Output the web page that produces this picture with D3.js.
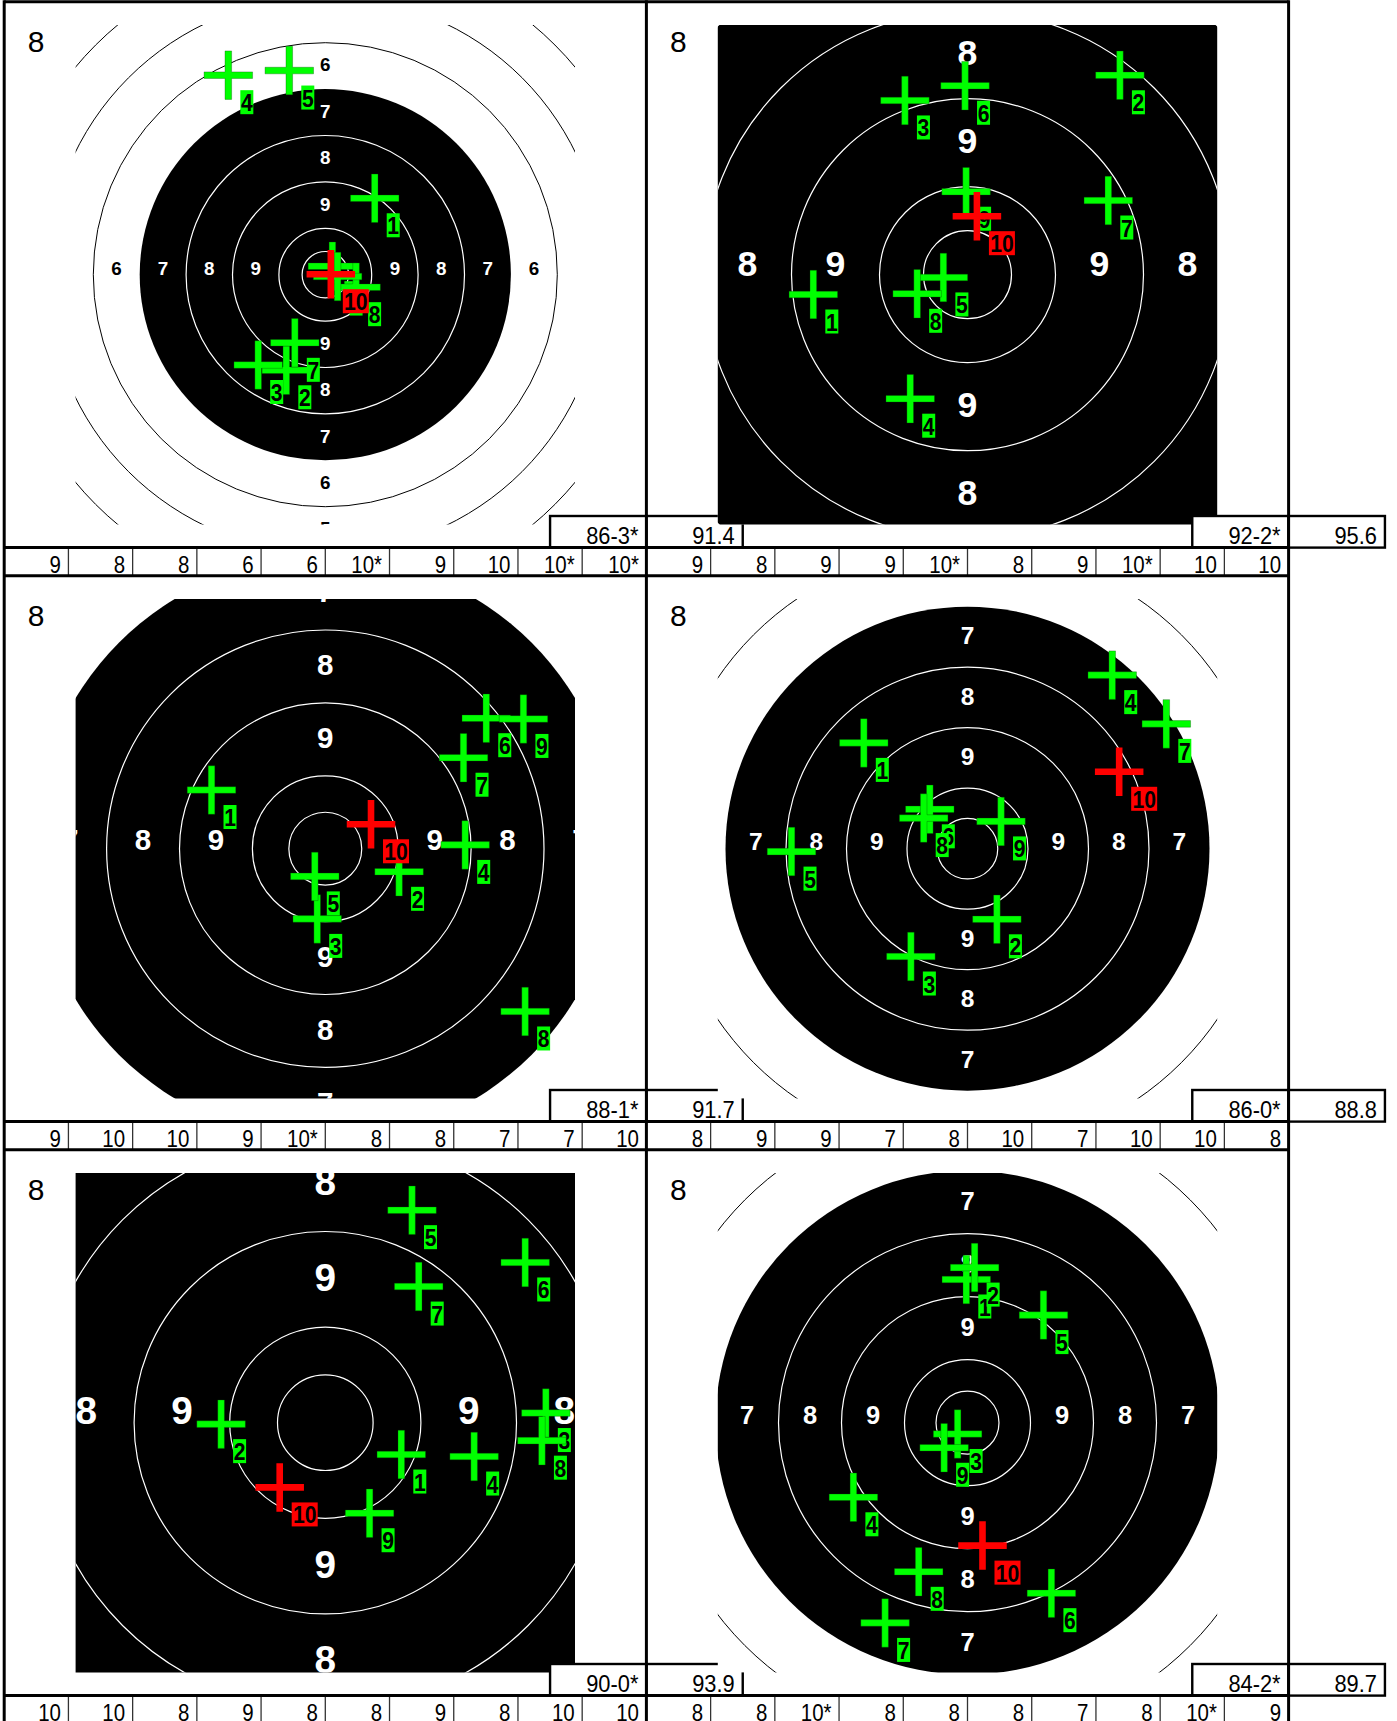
<!DOCTYPE html>
<html><head><meta charset="utf-8">
<script src="https://cdn.jsdelivr.net/npm/d3@7"></script>
<style>body{margin:0;background:#fff}svg{display:block}</style>
</head><body><svg id="c" width="1397" height="1721"></svg>
<script>
// ---------------- data ----------------
const cornerLabels = ["8","8","8","8","8","8"];
const seriesTotals = ["86-3*","92-2*","88-1*","86-0*","90-0*","84-2*"];
const decimalTotals = ["91.4","95.6","91.7","88.8","93.9","89.7"];
const shotNumbers = ["1","2","3","4","5","6","7","8","9","10"];

const scoresA = ["9","8","8","6","6","10*","9","10","10*","10*"];
const scoresB = ["9","8","9","9","10*","8","9","10*","10","10"];
const scoresC = ["9","10","10","9","10*","8","8","7","7","10"];
const scoresD = ["8","9","9","7","8","10","7","10","10","8"];
const scoresE = ["10","10","8","9","8","8","9","8","10","10"];
const scoresF = ["8","8","10*","8","8","8","7","8","10*","9"];

// shot positions in ring widths from the centre (x right, y up)
const xA = [1.065,-0.84,-1.446,-2.09,-0.776,0.153,-0.657,0.664,0.265,0.119];
const yA = [1.647,-2.06,-1.946,4.30,4.40,0.183,-1.468,-0.269,-0.04,0.01];
const xB = [-1.752,1.732,-0.711,-0.651,-0.274,-0.028,1.6,-0.572,-0.016,0.107];
const yB = [-0.225,2.266,1.98,-1.409,-0.031,2.147,0.843,-0.217,0.943,0.665];
const xC = [-1.561,1.012,-0.111,1.919,-0.144,2.208,1.896,2.741,2.718,0.627];
const yC = [0.805,-0.317,-0.963,0.052,-0.38,1.79,1.248,-2.233,1.78,0.335];
const xD = [-1.714,0.486,-0.936,2.392,-2.909,-0.623,3.286,-0.724,0.554,2.507];
const yD = [1.749,-1.167,-1.782,2.869,-0.048,0.651,2.063,0.506,0.451,1.271];
const xE = [0.795,-1.09,2.307,1.557,0.907,2.091,0.977,2.266,0.463,-0.477];
const yE = [-0.333,-0.015,0.101,-0.354,2.223,1.676,1.424,-0.188,-0.947,-0.677];
const xF = [-0.019,0.113,-0.157,-1.811,1.206,1.332,-1.308,-0.775,-0.371,0.238];
const yF = [2.273,2.462,-0.179,-1.184,1.708,-2.706,-3.178,-2.367,-0.398,-1.951];

const ringRadii = [0.5,1,2,3,5,6,7,8,9];          // ring lines (ring widths)
const ringLabelValues = [9,8,7,6,5,4,3,2];       // printed ring numbers
const blackRadius = 4;                            // black aiming mark

// ---------------- view settings ----------------
const panelScale = [46.4,88,72.9,60.5,95.6,63];   // px per ring width

const panels = [
  {scores:scoresA,x:xA,y:yA},{scores:scoresB,x:xB,y:yB},
  {scores:scoresC,x:xC,y:yC},{scores:scoresD,x:xD,y:yD},
  {scores:scoresE,x:xE,y:yE},{scores:scoresF,x:xF,y:yF}
];

const FONT = '"Liberation Sans", Arial, Helvetica, sans-serif';
const svg = d3.select("#c").style("font-family", FONT);
const defs = svg.append("defs");
const colLeft = [4.2, 646.4], colW = 642.2, cellW = colW/10;
const blockH = 574, top0 = 2, half = 249.7;
const GREEN = "#00ff00", RED = "#ff0000";

function crossPath(cx, cy){
  const L = 24.25, t = 3.3, a = L - t;
  return `M${cx-t},${cy-L}h${2*t}v${a}h${a}v${2*t}h${-a}v${a}h${-2*t}v${-a}h${-a}v${-2*t}h${a}Z`;
}

panels.forEach((p, i) => {
  const row = Math.floor(i/2), col = i % 2;
  const T = top0 + row*blockH;
  const cx = colLeft[col] + colW/2, cy = T + 272.7;
  const u = panelScale[i];
  const sx = d3.scaleLinear().domain([-1,1]).range([cx-u, cx+u]);
  const sy = d3.scaleLinear().domain([-1,1]).range([cy+u, cy-u]);
  const rad = r => sx(r) - sx(0);

  defs.append("clipPath").attr("id","clip"+i).append("rect")
    .attr("x",cx-half).attr("y",cy-half).attr("width",2*half).attr("height",2*half);

  const g = svg.append("g");
  // target background
  g.append("rect").attr("x",cx-half).attr("y",cy-half)
    .attr("width",2*half).attr("height",2*half).attr("fill","#fff");
  const tg = g.append("g").attr("clip-path",`url(#clip${i})`);
  tg.append("circle").attr("cx",cx).attr("cy",cy).attr("r",rad(blackRadius)).attr("fill","#000");
  tg.selectAll("circle.ring").data(ringRadii).join("circle").attr("class","ring")
    .attr("cx",cx).attr("cy",cy).attr("r",d=>rad(d)).attr("fill","none")
    .attr("stroke",d=> d<blackRadius ? "#fff" : "#000")
    .attr("stroke-width",d=> d<blackRadius ? 1.2 : 1);

  // ring numbers (only those at least partly inside the visible square)
  const fs = 0.405*u;
  const lab = [];
  ringLabelValues.forEach(v => {
    const r = 10.5 - v;
    lab.push({v, r, x: sx(-r), yc: sy(0) - 0.13*u});
    lab.push({v, r, x: sx(r),  yc: sy(0) - 0.13*u});
    lab.push({v, r, x: sx(0),  yc: sy(r) - 0.025*u});
    lab.push({v, r, x: sx(0),  yc: sy(-r) - 0.025*u});
  });
  const visible = lab.filter(d =>
    Math.abs(d.x - cx) - 0.28*fs < half && Math.abs(d.yc - cy) - 0.36*fs < half);
  tg.selectAll("text.rl").data(visible).join("text").attr("class","rl")
    .attr("x",d=>d.x).attr("y",d=>d.yc + 0.358*fs)
    .attr("text-anchor","middle").attr("font-size",fs).attr("font-weight","bold")
    .attr("fill",d=> d.r<blackRadius ? "#fff" : "#000").text(d=>d.v);

  // shots
  p.x.forEach((vx, k) => {
    const px = sx(vx), py = sy(p.y[k]);
    const last = k === p.x.length-1;
    const col0 = last ? RED : GREEN;
    g.append("path").attr("d",crossPath(px,py)).attr("fill",col0)
      .attr("stroke", last ? "none" : "rgba(0,70,0,0.55)").attr("stroke-width",0.6);
    const txt = shotNumbers[k], w = 13*txt.length;
    g.append("rect").attr("x",px+12).attr("y",py+15).attr("width",w).attr("height",24).attr("fill",col0);
    g.append("text").attr("transform",`translate(${px+12+w/2},${py+36}) scale(0.88,1)`)
      .attr("text-anchor","middle").attr("font-size",24).attr("font-weight","bold")
      .attr("fill","#000").text(txt);
  });

  // total boxes
  const scoreTop = T + 545.6, boxTop = T + 514;
  const right = colLeft[col] + colW, bw = 1.5*cellW;
  [[right-bw, seriesTotals[i]], [right, decimalTotals[i]]].forEach(([bx, s]) => {
    g.append("rect").attr("x",bx).attr("y",boxTop).attr("width",bw).attr("height",scoreTop-boxTop)
      .attr("fill","#fff").attr("stroke","#000").attr("stroke-width",2.4);
    g.append("text").attr("transform",`translate(${bx+bw-8},${scoreTop-4}) scale(0.91,1)`)
      .attr("text-anchor","end").attr("font-size",24).attr("fill","#000").text(s);
  });

  // corner label
  svg.append("text").attr("x",colLeft[col]+23.5).attr("y",T+50)
    .attr("font-size",30).attr("fill","#000").text(cornerLabels[i]);

  // score row
  const sg = svg.append("g");
  sg.append("rect").attr("x",colLeft[col]).attr("y",scoreTop).attr("width",colW).attr("height",29.4).attr("fill","#fff");
  p.scores.forEach((s, k) => {
    const xr = colLeft[col] + (k+1)*cellW;
    if (k < 9) sg.append("line").attr("x1",xr).attr("x2",xr).attr("y1",scoreTop).attr("y2",scoreTop+29.4)
      .attr("stroke","#333").attr("stroke-width",1.3);
    sg.append("text").attr("transform",`translate(${xr-7.5},${scoreTop+25}) scale(0.89,1)`)
      .attr("text-anchor","end").attr("font-size",23).attr("fill","#000").text(s);
  });
});

// grid lines
const gl = svg.append("g").attr("stroke","#000").attr("stroke-width",3);
[colLeft[0], colLeft[1], colLeft[1]+colW].forEach(x =>
  gl.append("line").attr("x1",x).attr("x2",x).attr("y1",0.2).attr("y2",1721));
[0,1,2,3].forEach(r => {
  const T = top0 + r*blockH;
  gl.append("line").attr("x1",colLeft[0]).attr("x2",colLeft[1]+colW).attr("y1",T-0.3).attr("y2",T-0.3);
  if (r < 3) gl.append("line").attr("x1",colLeft[0]).attr("x2",colLeft[1]+colW)
    .attr("y1",T+545.6).attr("y2",T+545.6);
});
</script></body></html>
